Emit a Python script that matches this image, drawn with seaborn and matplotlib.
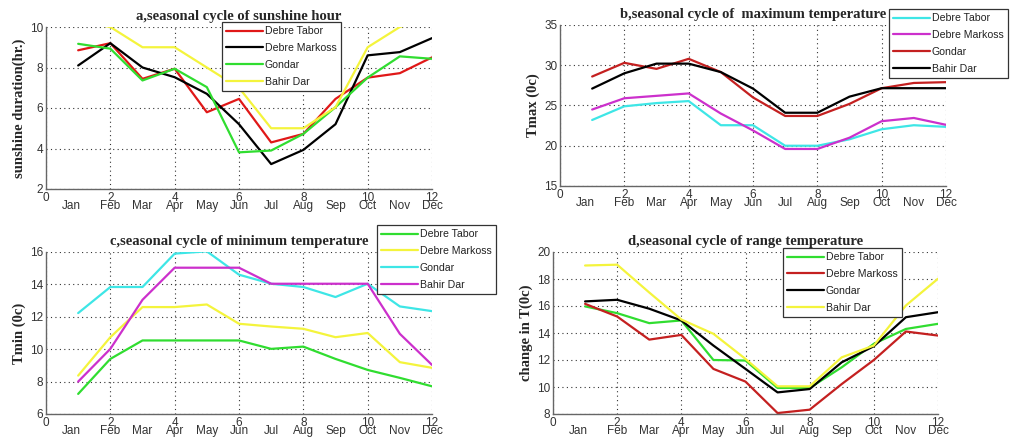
import numpy as np
import pandas as pd
import matplotlib
matplotlib.use("Agg")
import matplotlib.pyplot as plt
import matplotlib.transforms as mtransforms
import seaborn as sns

sns.set_style("white")
plt.rcParams['font.family'] = ['Liberation Sans', 'DejaVu Sans']

months = list(range(1, 13))
month_names = ["Jan", "Feb", "Mar", "Apr", "May", "Jun",
               "Jul", "Aug", "Sep", "Oct", "Nov", "Dec"]
stations = ["Debre Tabor", "Debre Markoss", "Gondar", "Bahir Dar"]

# (a) sunshine hours
sun_debre_tabor = [8.85, 9.2, 7.44, 7.94, 5.79, 6.45, 4.3, 4.72, 6.45, 7.5, 7.72, 8.5]
sun_debre_markoss = [8.1, 9.2, 8.0, 7.52, 6.7, 5.2, 3.23, 3.93, 5.2, 8.6, 8.76, 9.45]
sun_gondar = [9.17, 8.93, 7.36, 7.94, 7.03, 3.81, 3.9, 4.72, 6.04, 7.5, 8.55, 8.43]
sun_bahir_dar = [10.3, 10.0, 9.0, 9.0, 8.0, 7.0, 5.0, 5.0, 6.04, 9.0, 10.0, 10.5]

# (b) maximum temperature
tmax_debre_tabor = [23.2, 24.9, 25.3, 25.55, 22.55, 22.55, 20.0, 20.0, 20.8, 22.05, 22.55, 22.35]
tmax_debre_markoss = [24.5, 25.9, 26.2, 26.5, 24.0, 21.9, 19.6, 19.6, 21.0, 23.05, 23.45, 22.6]
tmax_gondar = [28.6, 30.3, 29.55, 30.8, 29.15, 26.0, 23.7, 23.7, 25.2, 27.15, 27.8, 27.9]
tmax_bahir_dar = [27.1, 29.0, 30.2, 30.2, 29.15, 27.1, 24.1, 24.1, 26.1, 27.15, 27.15, 27.15]

# (c) minimum temperature
tmin_debre_tabor = [7.24, 9.4, 10.54, 10.54, 10.54, 10.54, 10.02, 10.16, 9.4, 8.72, 8.23, 7.71]
tmin_debre_markoss = [8.37, 10.74, 12.6, 12.6, 12.76, 11.57, 11.4, 11.26, 10.74, 11.0, 9.2, 8.85]
tmin_gondar = [12.23, 13.84, 13.84, 15.9, 16.04, 14.6, 14.04, 13.84, 13.22, 14.04, 12.64, 12.35]
tmin_bahir_dar = [8.0, 10.02, 13.05, 15.03, 15.03, 15.03, 14.04, 14.04, 14.04, 14.04, 10.95, 9.03]

# (d) temperature range
rng_debre_tabor = [15.97, 15.47, 14.73, 14.93, 12.0, 11.96, 9.93, 9.93, 11.46, 13.2, 14.3, 14.68]
rng_debre_markoss = [16.16, 15.22, 13.51, 13.86, 11.34, 10.4, 8.07, 8.32, 10.22, 12.0, 14.11, 13.81]
rng_gondar = [16.34, 16.46, 15.8, 14.93, 13.07, 11.34, 9.6, 9.85, 11.83, 13.02, 15.17, 15.54]
rng_bahir_dar = [19.0, 19.06, 17.0, 15.0, 13.94, 12.08, 10.05, 10.05, 12.2, 13.07, 16.04, 18.02]

RED = "#e01818"
DARKRED = "#c42020"
BLACK = "#000000"
GREEN = "#30dd30"
YELLOW = "#f4f43c"
CYAN = "#3ee6e6"
MAGENTA = "#cc30cc"

panels = [
    dict(series=[sun_debre_tabor, sun_debre_markoss, sun_gondar, sun_bahir_dar],
         colors=[RED, BLACK, GREEN, YELLOW],
         title="a,seasonal cycle of sunshine hour", ylabel="sunshine duration(hr.)",
         ylim=(2, 10), yticks=[2, 4, 6, 8, 10],
         pos=[46, 27, 432, 189], leg=(222, 22)),
    dict(series=[tmax_debre_tabor, tmax_debre_markoss, tmax_gondar, tmax_bahir_dar],
         colors=[CYAN, MAGENTA, DARKRED, BLACK],
         title="b,seasonal cycle of  maximum temperature", ylabel="Tmax (0c)",
         ylim=(15, 35), yticks=[15, 20, 25, 30, 35],
         pos=[560, 25, 946, 186], leg=(889, 9)),
    dict(series=[tmin_debre_tabor, tmin_debre_markoss, tmin_gondar, tmin_bahir_dar],
         colors=[GREEN, YELLOW, CYAN, MAGENTA],
         title="c,seasonal cycle of minimum temperature", ylabel="Tmin (0c)",
         ylim=(6, 16), yticks=[6, 8, 10, 12, 14, 16],
         pos=[46, 252, 432, 414], leg=(377, 225)),
    dict(series=[rng_debre_tabor, rng_debre_markoss, rng_gondar, rng_bahir_dar],
         colors=[GREEN, DARKRED, BLACK, YELLOW],
         title="d,seasonal cycle of range temperature", ylabel="change in T(0c)",
         ylim=(8, 20), yticks=[8, 10, 12, 14, 16, 18, 20],
         pos=[553, 252, 938, 414], leg=(783, 248)),
]

W, H = 1010, 438
fig = plt.figure(figsize=(W / 100, H / 100), dpi=100)

month_x = [0.78, 2, 3, 4, 5, 6, 7, 8, 9, 10, 11, 12]
serif = ['Liberation Serif', 'DejaVu Serif']

for p in panels:
    l, t, r, b = p["pos"]
    ax = fig.add_axes([l / W, 1 - b / H, (r - l) / W, (b - t) / H])
    df = pd.DataFrame({
        "month": months * 4,
        "value": sum(p["series"], []),
        "station": sum([[s] * 12 for s in stations], []),
    })
    sns.lineplot(data=df, x="month", y="value", hue="station", hue_order=stations,
                 palette=p["colors"], linewidth=1.6, ax=ax, legend=True)
    ax.set_xlim(0, 12)
    ax.set_ylim(*p["ylim"])
    ax.set_xticks([0, 2, 4, 6, 8, 10, 12])
    ax.set_yticks(p["yticks"])
    ax.tick_params(axis="both", direction="in", length=3, width=0.8,
                   labelsize=8.5, colors="#333333", pad=2)
    ax.grid(True, color="#333333", linestyle=(0, (1, 3)), linewidth=0.8)
    for s in ["top", "right"]:
        ax.spines[s].set_visible(False)
    for s in ["left", "bottom"]:
        ax.spines[s].set_color("#666666")
        ax.spines[s].set_linewidth(1.0)
    ax.set_xlabel("")
    ax.set_ylabel(p["ylabel"], family=serif, fontweight="bold", fontsize=10.5, labelpad=3)
    ax.set_title(p["title"], family=serif, fontweight="bold", fontsize=10.5, pad=5)

    trans = mtransforms.blended_transform_factory(ax.transData, ax.transAxes)
    for mx, mn in zip(month_x, month_names):
        ax.text(mx, -0.105, mn, transform=trans, ha="center", va="center",
                fontsize=8.5, color="#333333")

    handles, labels = ax.get_legend_handles_labels()
    lx, ly = p["leg"]
    leg = ax.legend(handles, labels, loc="upper left",
                    bbox_to_anchor=(lx / W, 1 - ly / H), bbox_transform=fig.transFigure,
                    fontsize=7.6, frameon=True, fancybox=False, handlelength=3.5,
                    handletextpad=0.15, labelspacing=0.65, borderpad=0.4,
                    borderaxespad=0)
    leg.get_frame().set_edgecolor("#333333")
    leg.get_frame().set_linewidth(0.9)
    leg.get_frame().set_alpha(1)
    for txt in leg.get_texts():
        txt.set_color("#222222")

fig.savefig("out.png", dpi=100)
